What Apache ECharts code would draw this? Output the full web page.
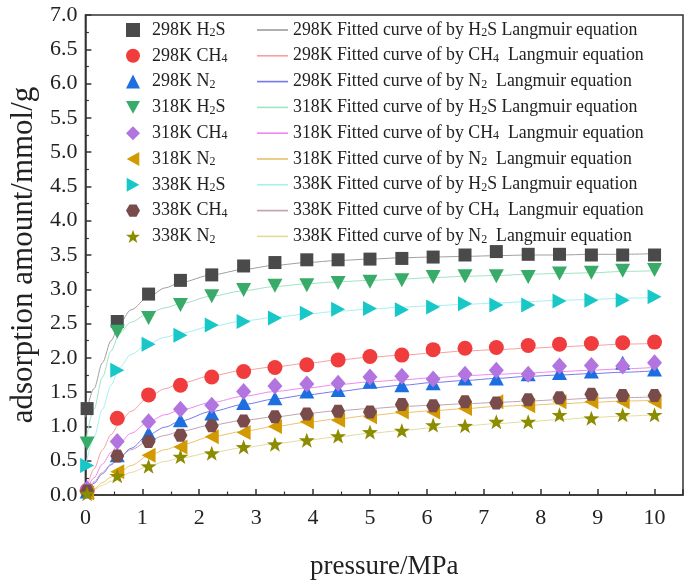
<!DOCTYPE html>
<html>
<head>
<meta charset="utf-8">
<script src="https://cdn.jsdelivr.net/npm/echarts@6/dist/echarts.min.js"></script>
<style>html,body{margin:0;padding:0;background:#fff}#c{width:685px;height:586px}</style>
</head>
<body>
<div id="c"></div>
<script>
// pressure (MPa) of measured points
var dataP = [0.03, 0.56, 1.11, 1.67, 2.22, 2.78, 3.33, 3.89, 4.44, 5.0, 5.56, 6.11, 6.67, 7.22, 7.78, 8.33, 8.89, 9.44, 10.0];
// measured adsorption amount (mmol/g)
var h2s298 = [1.26, 2.53, 2.93, 3.13, 3.21, 3.34, 3.39, 3.43, 3.43, 3.44, 3.45, 3.47, 3.50, 3.55, 3.51, 3.51, 3.50, 3.50, 3.50];
var ch4298 = [0.07, 1.12, 1.46, 1.60, 1.72, 1.80, 1.86, 1.90, 1.97, 2.02, 2.04, 2.12, 2.14, 2.15, 2.18, 2.20, 2.21, 2.22, 2.23];
var n2298  = [0.05, 0.58, 0.90, 1.09, 1.19, 1.34, 1.41, 1.51, 1.53, 1.65, 1.60, 1.63, 1.70, 1.70, 1.76, 1.78, 1.80, 1.93, 1.83];
var h2s318 = [0.75, 2.38, 2.58, 2.77, 2.90, 2.99, 3.05, 3.06, 3.09, 3.11, 3.13, 3.18, 3.19, 3.19, 3.18, 3.23, 3.24, 3.27, 3.28];
var ch4318 = [0.09, 0.78, 1.07, 1.25, 1.31, 1.51, 1.59, 1.62, 1.63, 1.72, 1.73, 1.69, 1.76, 1.82, 1.76, 1.88, 1.89, 1.88, 1.93];
var n2318  = [0.03, 0.34, 0.58, 0.70, 0.85, 0.91, 1.00, 1.07, 1.09, 1.14, 1.21, 1.21, 1.26, 1.36, 1.30, 1.36, 1.36, 1.36, 1.36];
var h2s338 = [0.43, 1.82, 2.20, 2.33, 2.48, 2.53, 2.58, 2.65, 2.71, 2.72, 2.70, 2.74, 2.79, 2.77, 2.77, 2.83, 2.84, 2.84, 2.89];
var ch4338 = [0.06, 0.57, 0.78, 0.87, 1.01, 1.08, 1.14, 1.18, 1.22, 1.21, 1.32, 1.30, 1.36, 1.34, 1.39, 1.42, 1.47, 1.45, 1.45];
var n2338  = [0.02, 0.28, 0.42, 0.56, 0.61, 0.70, 0.74, 0.80, 0.86, 0.92, 0.94, 1.02, 1.01, 1.07, 1.07, 1.17, 1.12, 1.17, 1.17];

// fitted Langmuir curves
var fitP = [0, 0.15, 0.3, 0.45, 0.6, 0.8, 1.11, 1.4, 1.67, 2.22, 2.78, 3.33, 3.89, 4.44, 5.0, 5.56, 6.11, 6.67, 7.22, 7.78, 8.33, 8.89, 9.44, 10];
var fitH2s298 = [1.14, 1.55, 1.93, 2.25, 2.50, 2.70, 2.89, 3.02, 3.10, 3.21, 3.29, 3.35, 3.39, 3.42, 3.44, 3.46, 3.47, 3.48, 3.49, 3.50, 3.50, 3.51, 3.51, 3.52];
var fitCh4298 = [0, 0.38, 0.66, 0.88, 1.05, 1.22, 1.43, 1.55, 1.63, 1.74, 1.82, 1.87, 1.92, 1.97, 2.01, 2.04, 2.07, 2.10, 2.12, 2.14, 2.16, 2.18, 2.20, 2.21];
var fitN2298  = [0, 0.17, 0.31, 0.44, 0.55, 0.68, 0.88, 0.99, 1.08, 1.22, 1.32, 1.40, 1.46, 1.51, 1.56, 1.60, 1.64, 1.67, 1.70, 1.73, 1.75, 1.77, 1.79, 1.81];
var fitH2s318 = [0.75, 1.25, 1.72, 2.10, 2.36, 2.52, 2.65, 2.73, 2.79, 2.90, 2.98, 3.04, 3.08, 3.11, 3.13, 3.15, 3.17, 3.19, 3.20, 3.22, 3.23, 3.24, 3.26, 3.27];
var fitCh4318 = [0, 0.25, 0.45, 0.62, 0.76, 0.90, 1.07, 1.17, 1.24, 1.35, 1.44, 1.51, 1.56, 1.61, 1.65, 1.68, 1.71, 1.74, 1.76, 1.78, 1.80, 1.82, 1.84, 1.86];
var fitN2318  = [0, 0.09, 0.18, 0.26, 0.33, 0.43, 0.57, 0.66, 0.73, 0.85, 0.93, 1.00, 1.06, 1.11, 1.16, 1.20, 1.23, 1.26, 1.29, 1.31, 1.33, 1.35, 1.37, 1.38];
var fitH2s338 = [0.41, 0.84, 1.25, 1.60, 1.86, 2.05, 2.21, 2.30, 2.36, 2.46, 2.54, 2.59, 2.64, 2.68, 2.71, 2.74, 2.76, 2.78, 2.80, 2.82, 2.84, 2.85, 2.87, 2.88];
var fitCh4338 = [0, 0.19, 0.33, 0.45, 0.55, 0.66, 0.79, 0.87, 0.93, 1.02, 1.09, 1.14, 1.19, 1.23, 1.26, 1.29, 1.31, 1.33, 1.35, 1.37, 1.39, 1.41, 1.42, 1.43];
var fitN2338  = [0, 0.08, 0.14, 0.20, 0.26, 0.33, 0.42, 0.49, 0.54, 0.62, 0.69, 0.75, 0.80, 0.85, 0.90, 0.94, 0.98, 1.01, 1.04, 1.07, 1.10, 1.13, 1.15, 1.17];

var pointNames = ['298K H2S', '298K CH4', '298K N2', '318K H2S', '318K CH4', '318K N2', '338K H2S', '338K CH4', '338K N2'];
var fitNames = [
  '298K Fitted curve of by H2S Langmuir equation',
  '298K Fitted curve of by CH4  Langmuir equation',
  '298K Fitted curve of by N2  Langmuir equation',
  '318K Fitted curve of by H2S Langmuir equation',
  '318K Fitted curve of by CH4  Langmuir equation',
  '318K Fitted curve of by N2  Langmuir equation',
  '338K Fitted curve of by H2S Langmuir equation',
  '338K Fitted curve of by CH4  Langmuir equation',
  '338K Fitted curve of by N2  Langmuir equation'
];
var xTicks = [0, 1, 2, 3, 4, 5, 6, 7, 8, 9, 10];

var pointData = [h2s298, ch4298, n2298, h2s318, ch4318, n2318, h2s338, ch4338, n2338];
var fitData = [fitH2s298, fitCh4298, fitN2298, fitH2s318, fitCh4318, fitN2318, fitH2s338, fitCh4338, fitN2338];

var pointColors = ['#4a4a4a', '#f03c3c', '#1c6fe0', '#38ab68', '#b274df', '#d29a00', '#18c8c8', '#7a4b4b', '#8c8c00'];
var lineColors  = ['#a0a0a0', '#f8a0a0', '#7878f0', '#a0e4c4', '#f088f0', '#e8c470', '#a8f0f0', '#c0a4b4', '#e2dca0'];
var symbols = [
  'rect',
  'circle',
  'triangle',
  'path://M0,0L10,0L5,9Z',
  'diamond',
  'path://M9,0L9,10L0,5Z',
  'path://M0,0L0,10L9,5Z',
  'path://M2.5,0L7.5,0L10,4.33L7.5,8.66L2.5,8.66L0,4.33Z',
  'path://M5,0L6.176,3.382L9.755,3.455L6.902,5.618L7.939,9.045L5,7L2.061,9.045L3.098,5.618L0.245,3.455L3.824,3.382Z'
];
var symbolSizes = [13, 15, [15, 14], [15, 14], [15, 17], [14, 15], [14, 15], [14, 13], [16, 15]];

var FONT = '"Liberation Serif", "Times New Roman", serif';

function subFmt(name) {
  return name.replace('H2S', 'H{s|2}S').replace('CH4', 'CH{s|4}').replace('N2', 'N{s|2}');
}

var series = [];
for (var i = 0; i < 9; i++) {
  var lineArr = [];
  for (var j = 0; j < fitP.length; j++) lineArr.push([fitP[j], fitData[i][j]]);
  series.push({
    name: fitNames[i],
    type: 'line',
    data: lineArr,
    smooth: 0.3,
    smoothMonotone: 'x',
    symbol: 'none',
    showSymbol: false,
    z: 2,
    lineStyle: { color: lineColors[i], width: 1 },
    itemStyle: { color: lineColors[i] }
  });
}
for (var i = 0; i < 9; i++) {
  var ptArr = [];
  for (var j = 0; j < dataP.length; j++) ptArr.push([dataP[j], pointData[i][j]]);
  series.push({
    name: pointNames[i],
    type: 'scatter',
    data: ptArr,
    symbol: symbols[i],
    symbolSize: symbolSizes[i],
    z: 3,
    itemStyle: { color: pointColors[i], opacity: 1 }
  });
}

var richCommon = {
  s: { fontFamily: FONT, fontSize: 12, lineHeight: 10, verticalAlign: 'bottom', color: '#222' },
  sp: { width: 7, fontSize: 18, lineHeight: 18 }
};

var option = {
  animation: false,
  backgroundColor: '#fff',
  textStyle: { fontFamily: FONT },
  grid: { left: 83, right: 2, top: 15, bottom: 91, show: true, borderColor: '#333', borderWidth: 1.5, backgroundColor: 'transparent' },
  legend: [
    {
      data: pointNames,
      orient: 'vertical',
      left: 121,
      top: 16,
      itemWidth: 14,
      itemHeight: 14,
      itemGap: 7.8,
      formatter: function (n) { return '{sp| }' + subFmt(n); },
      textStyle: { fontFamily: FONT, fontSize: 18, lineHeight: 18, color: '#222', rich: richCommon }
    },
    {
      data: fitNames,
      orient: 'vertical',
      left: 252,
      top: 16,
      itemWidth: 31,
      itemHeight: 14,
      itemGap: 7.8,
      icon: 'path://M0,0L30,0L30,1.6L0,1.6Z',
      formatter: function (n) { return subFmt(n); },
      textStyle: { fontFamily: FONT, fontSize: 17.8, lineHeight: 18, color: '#222', rich: richCommon }
    }
  ],
  xAxis: {
    type: 'value',
    min: 0,
    max: 10.5,
    interval: 1,
    name: 'pressure/MPa',
    nameLocation: 'middle',
    nameGap: 58,
    nameTextStyle: { fontFamily: FONT, fontSize: 27, color: '#222' },
    axisLine: { onZero: false, lineStyle: { color: '#333', width: 1.5 } },
    axisTick: { inside: true, length: 6, lineStyle: { color: '#333', width: 1.5 } },
    minorTick: { show: true, splitNumber: 2, length: 3.5, lineStyle: { color: '#333', width: 1.2 } },
    axisLabel: {
      fontFamily: FONT, fontSize: 22, color: '#222', margin: 12, showMaxLabel: false,
      formatter: function (v) { return xTicks.indexOf(v) >= 0 ? String(v) : ''; }
    },
    splitLine: { show: false }
  },
  yAxis: {
    type: 'value',
    min: 0,
    max: 7,
    interval: 0.5,
    name: 'adsorption amount/mmol/g',
    nameLocation: 'middle',
    nameGap: 39,
    nameTextStyle: { fontFamily: FONT, fontSize: 31, color: '#222' },
    axisLine: { onZero: false, lineStyle: { color: '#333', width: 1.5 } },
    axisTick: { inside: true, length: 6, lineStyle: { color: '#333', width: 1.5 } },
    minorTick: { show: true, splitNumber: 2, length: 3.5, lineStyle: { color: '#333', width: 1.2 } },
    axisLabel: {
      fontFamily: FONT, fontSize: 22, color: '#222', margin: 8,
      formatter: function (v) { return v.toFixed(1); }
    },
    splitLine: { show: false }
  },
  series: series
};

var chart = echarts.init(document.getElementById('c'), null, { renderer: 'canvas' });
chart.setOption(option);
</script>
</body>
</html>
